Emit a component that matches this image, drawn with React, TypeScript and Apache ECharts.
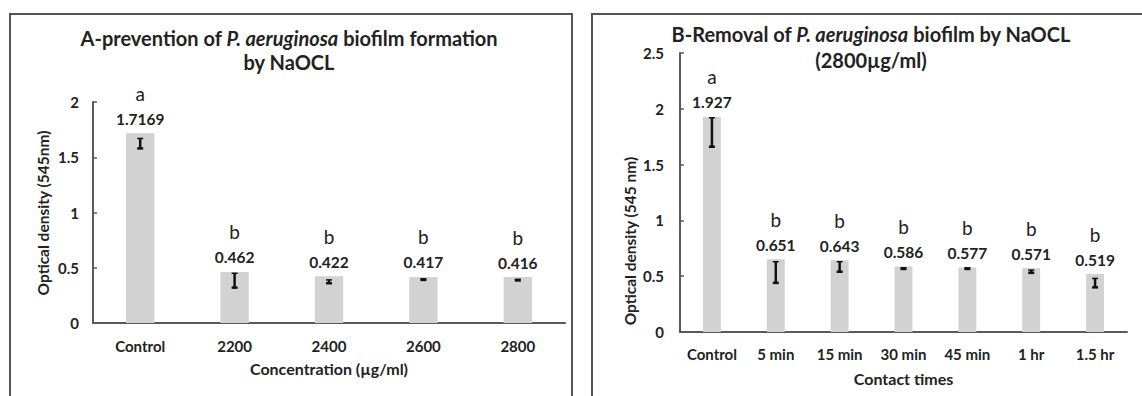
import React, { useEffect, useRef } from "react";
import * as echarts from "echarts";

// Panel A – prevention
const catsA = ["Control", "2200", "2400", "2600", "2800"];
const valsA = [1.7169, 0.462, 0.422, 0.417, 0.416];
const lettersA = ["a", "b", "b", "b", "b"];
const errLowA = [1.58, 0.32, 0.36, 0.39, 0.385];
const errHighA = [1.67, 0.45, 0.39, 0.4, 0.395];

// Panel B – removal
const catsB = ["Control", "5 min", "15 min", "30 min", "45 min", "1 hr", "1.5 hr"];
const valsB = [1.927, 0.651, 0.643, 0.586, 0.577, 0.571, 0.519];
const lettersB = ["a", "b", "b", "b", "b", "b", "b"];
const errLowB = [1.66, 0.44, 0.54, 0.565, 0.565, 0.53, 0.4];
const errHighB = [1.92, 0.63, 0.63, 0.575, 0.575, 0.555, 0.48];

const FONT = "Lato";
const TXT = "#222";
const AXIS = "#5a5a5a";

function errorRender(params: any, api: any) {
  const idx = api.value(0);
  const lo = api.coord([idx, api.value(1)]);
  const hi = api.coord([idx, api.value(2)]);
  const cx = lo[0];
  const w = 3;
  const st = { stroke: "#111", lineWidth: 2.5 };
  return {
    type: "group",
    children: [
      { type: "line", shape: { x1: cx, y1: hi[1], x2: cx, y2: lo[1] }, style: st },
      { type: "line", shape: { x1: cx - w, y1: hi[1], x2: cx + w, y2: hi[1] }, style: { stroke: "#111", lineWidth: 1.5 } },
      { type: "line", shape: { x1: cx - w, y1: lo[1], x2: cx + w, y2: lo[1] }, style: st },
    ],
  };
}

function barLabel(letters: string[]) {
  return {
    show: true,
    position: "top",
    distance: 6,
    formatter: (p: any) => `{l|${letters[p.dataIndex]}}\n{v|${p.value}}`,
    rich: {
      l: { fontSize: 19, fontFamily: FONT, color: TXT, lineHeight: 34 },
      v: { fontSize: 15.5, fontFamily: FONT, fontWeight: "bold", color: TXT, lineHeight: 17 },
    },
  };
}

function yAxisCfg(gridIndex: number, max: number, margin: number) {
  return {
    type: "value",
    gridIndex,
    min: 0,
    max,
    interval: 0.5,
    axisLine: { show: true, lineStyle: { color: AXIS, width: 2 } },
    axisTick: { show: true, inside: true, length: 4, lineStyle: { color: AXIS, width: 1.5 } },
    splitLine: { show: false },
    axisLabel: { color: TXT, fontFamily: FONT, fontWeight: "bold", fontSize: 15, margin },
  };
}

function xAxisCfg(gridIndex: number, data: string[], name: string, margin: number, nameGap: number) {
  return {
    type: "category",
    gridIndex,
    data,
    name,
    nameLocation: "middle",
    nameGap,
    nameTextStyle: { color: TXT, fontFamily: FONT, fontWeight: "bold", fontSize: 16 },
    axisLine: { show: true, lineStyle: { color: AXIS, width: 2 } },
    axisTick: { show: false },
    axisLabel: { color: TXT, fontFamily: FONT, fontWeight: "bold", fontSize: 15, margin, interval: 0 },
  };
}

export default function App() {
  const ref = useRef<HTMLDivElement>(null);
  useEffect(() => {
    if (!ref.current) return;
    const chart = echarts.init(ref.current, undefined, { renderer: "svg" });
    const TS = 20;
    const titleStyle = (text: string) => ({
      text,
      fontFamily: FONT,
      fontWeight: "bold",
      fontSize: TS,
      fill: TXT,
      align: "center",
      verticalAlign: "middle",
      rich: {
        i: { fontFamily: FONT, fontWeight: "bold", fontStyle: "italic", fontSize: TS, fill: TXT },
        n: { fontFamily: FONT, fontWeight: "bold", fontSize: TS, fill: TXT },
      },
    });
    const yTitle = (text: string, x: number, y: number) => ({
      type: "text",
      x,
      y,
      rotation: Math.PI / 2,
      style: {
        text,
        fontFamily: FONT,
        fontWeight: "bold",
        fontSize: 15.5,
        fill: TXT,
        align: "center",
        verticalAlign: "middle",
      },
    });
    chart.setOption({
      animation: false,
      backgroundColor: "#fff",
      grid: [
        { left: 93, right: 577, top: 102, bottom: 73 },
        { left: 680, right: 15, top: 53, bottom: 64 },
      ],
      xAxis: [
        xAxisCfg(0, catsA, "Concentration (µg/ml)", 15, 37),
        xAxisCfg(1, catsB, "Contact times", 14, 38),
      ],
      yAxis: [yAxisCfg(0, 2, 14), yAxisCfg(1, 2.5, 16)],
      series: [
        {
          type: "bar",
          xAxisIndex: 0,
          yAxisIndex: 0,
          data: valsA,
          barWidth: "30%",
          itemStyle: { color: "#d2d2d2" },
          label: barLabel(lettersA),
          z: 2,
        },
        {
          type: "custom",
          xAxisIndex: 0,
          yAxisIndex: 0,
          data: catsA.map((_, i) => [i, errLowA[i], errHighA[i]]),
          encode: { x: 0, y: [1, 2] },
          renderItem: errorRender,
          z: 5,
        },
        {
          type: "bar",
          xAxisIndex: 1,
          yAxisIndex: 1,
          data: valsB,
          barWidth: "28%",
          itemStyle: { color: "#d2d2d2" },
          label: barLabel(lettersB),
          z: 2,
        },
        {
          type: "custom",
          xAxisIndex: 1,
          yAxisIndex: 1,
          data: catsB.map((_, i) => [i, errLowB[i], errHighB[i]]),
          encode: { x: 0, y: [1, 2] },
          renderItem: errorRender,
          z: 5,
        },
      ],
      graphic: [
        {
          type: "rect",
          shape: { x: 10, y: 14, width: 562, height: 390 },
          style: { fill: "none", stroke: "#555", lineWidth: 2 },
          z: -1,
        },
        {
          type: "rect",
          shape: { x: 592, y: 14, width: 560, height: 390 },
          style: { fill: "none", stroke: "#555", lineWidth: 2 },
          z: -1,
        },
        { type: "text", x: 289, y: 38, style: titleStyle("{n|A-prevention of }{i|P. aeruginosa}{n| biofilm formation}") },
        { type: "text", x: 289, y: 62, style: titleStyle("by NaOCL") },
        { type: "text", x: 871, y: 34, style: titleStyle("{n|B-Removal of }{i|P. aeruginosa}{n| biofilm by NaOCL}") },
        { type: "text", x: 871, y: 60, style: titleStyle("(2800µg/ml)") },
        yTitle("Optical density (545nm)", 43, 213),
        yTitle("Optical density (545 nm)", 630, 241),
      ],
    });
    return () => chart.dispose();
  }, []);
  return (
    <div
      ref={ref}
      style={{ position: "absolute", left: 0, top: 0, width: 1142, height: 396, background: "#fff" }}
    />
  );
}
